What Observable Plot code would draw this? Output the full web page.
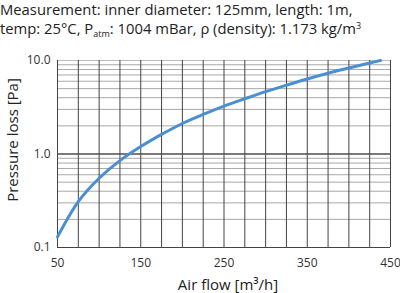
<!DOCTYPE html>
<html>
<head>
<meta charset="utf-8">
<script src="https://cdn.jsdelivr.net/npm/d3@7"></script>
<script src="https://cdn.jsdelivr.net/npm/@observablehq/plot@0.6"></script>
<style>
  html, body { margin: 0; padding: 0; background: #fff; }
  body { width: 400px; height: 293px; overflow: hidden; font-family: "Open Sans", sans-serif; }
  #title { height: 44px; box-sizing: border-box; padding: 0; font-size: 14.8px; line-height: 19px; color: #222; white-space: nowrap; }
  #title sub { font-size: 9px; vertical-align: -3px; line-height: 0; }
  #title sup { font-size: 9px; vertical-align: 5px; line-height: 0; }
  #chart svg { display: block; }
</style>
</head>
<body>
<div id="title">Measurement: inner diameter: 125mm, length: 1m,<br>temp: 25°C, P<sub>atm</sub>: 1004 mBar, ρ (density): 1.173 kg/m<sup>3</sup></div>
<div id="chart"></div>
<script>
const airFlow = [50, 75, 100, 125, 150, 175, 200, 225, 250, 275, 300, 325, 350, 375, 400, 425, 438];
const pressureLoss = [0.13, 0.31, 0.55, 0.85, 1.2, 1.62, 2.12, 2.65, 3.25, 3.9, 4.65, 5.45, 6.35, 7.3, 8.3, 9.4, 10.0];
const xTicks = [50, 150, 250, 350, 450];
const xGrid = d3.range(50, 451, 25);
const yTicks = [0.1, 1, 10];
const yMinor = [0.2, 0.3, 0.4, 0.5, 0.6, 0.7, 0.8, 0.9, 2, 3, 4, 5, 6, 7, 8, 9];
const xLabel = "Air flow [m³/h]";
const yLabel = "Pressure loss [Pa]";

const data = airFlow.map((q, i) => ({q, p: pressureLoss[i]}));

const chart = Plot.plot({
  width: 400,
  height: 249,
  marginTop: 16,
  marginLeft: 57,
  marginRight: 10,
  marginBottom: 46,
  style: {fontFamily: "Open Sans, sans-serif", fontSize: "12px", color: "#333", background: "#fff", overflow: "visible"},
  x: {domain: [50, 450]},
  y: {type: "log", domain: [0.1, 10]},
  marks: [
    Plot.ruleY(yMinor, {stroke: "#a8a8a8", strokeWidth: 1}),
    Plot.ruleY([10], {stroke: "#bdbdbd", strokeWidth: 1}),
    Plot.ruleY([1], {stroke: "#7a7a7a", strokeWidth: 2}),
    Plot.ruleX(xGrid, {stroke: "#444", strokeWidth: 1}),
    Plot.ruleY([0.1], {stroke: "#444", strokeWidth: 1}),
    Plot.line(data, {x: "q", y: "p", curve: "catmull-rom", stroke: "#4a8fd4", strokeWidth: 3}),
    Plot.axisX({ticks: xTicks, tickSize: 0, tickPadding: 11, tickFormat: d => String(d), label: null, fontSize: 12}),
    Plot.axisY({ticks: yTicks, tickSize: 0, tickPadding: 7, tickFormat: d => d3.format(".1f")(d), label: null, fontSize: 12}),
    Plot.text([xLabel], {frameAnchor: "bottom", textAnchor: "middle", lineAnchor: "middle", dx: 4, dy: 38, fontSize: 15, fill: "#222"}),
    Plot.text([yLabel], {frameAnchor: "left", textAnchor: "middle", lineAnchor: "middle", rotate: -90, dx: -44, dy: -14, fontSize: 15, fill: "#222"})
  ]
});
document.getElementById("chart").appendChild(chart);
</script>
</body>
</html>
